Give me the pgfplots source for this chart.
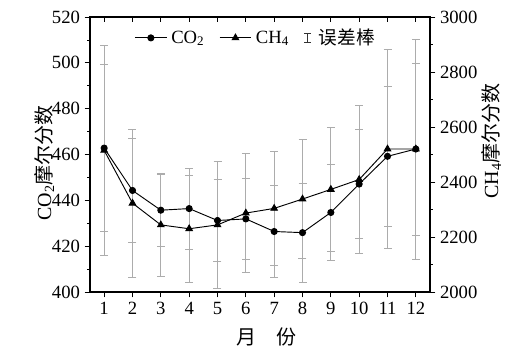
\documentclass[border=0pt]{standalone}
\usepackage{pgfplots}
\usepackage{pgfplotstable}
\pgfplotsset{compat=1.18}
\usepackage{fontspec}
\setmainfont{Liberation Serif}
\newfontfamily\cjk{Noto Sans CJK SC}

\pgfplotstableread{
m  v      e
1  462.8  36.5
2  444.3  22.7
3  435.7  15.8
4  436.4  17.6
5  431.2  17.9
6  431.9  17.5
7  426.4  20.2
8  425.9  21.6
9  434.7  21.1
10 447.1  23.8
11 459.2  30.6
12 462.4  37.5
}\coTwo

\pgfplotstableread{
m  v     e
1  2515  382
2  2323  270
3  2244  188
4  2230  194
5  2244  231
6  2287  216
7  2304  207
8  2338  216
9  2373  225
10 2409  270
11 2520  361
12 2520  400
}\chFour

\pgfplotsset{
  base/.style={
    width=255pt, height=206.25pt, scale only axis,
    xmin=0.5, xmax=12.5, xtick={1,...,12},
    /pgf/number format/assume math mode=true,
    tick label style={font=\fontsize{14}{14}\selectfont},
    label style={font=\fontsize{15}{15}\selectfont},
    major tick length=4pt, minor tick length=2.2pt,
    axis line style={line width=0.8pt},
    every tick/.style={black, line width=0.6pt},
  },
  ebar/.style={
    draw=none, mark=none, forget plot,
    error bars/.cd, y dir=both, y explicit,
    error bar style={gray!65, line width=0.6pt},
    error mark options={rotate=90, mark size=3pt, gray!65, line width=0.6pt},
  },
}

\begin{document}
\begin{tikzpicture}
% left axis with CO2 error bars
\begin{axis}[base,
  ymin=400, ymax=520, ytick={400,420,...,520}, minor y tick num=1,
  xtick pos=bottom, ytick pos=left, tick align=outside,
  xlabel={\cjk 月\hspace{1em}份},
  xlabel style={at={(axis description cs:0.52,-0.165)}, anchor=center},
  ylabel={CO\textsubscript{2}{\cjk 摩尔分数}},
  ylabel style={at={(axis description cs:-0.135,0.47)}, anchor=center},
]
\addplot+[ebar] table[x=m, y=v, y error=e] {\coTwo};
\end{axis}
% right axis with CH4 error bars
\begin{axis}[base,
  ymin=2000, ymax=3000, ytick={2000,2200,...,3000}, minor y tick num=1,
  axis y line*=right, axis x line*=top,
  xticklabels={}, tick align=outside, xtick align=inside,
  ylabel={CH\textsubscript{4}{\cjk 摩尔分数}},
  ylabel style={at={(axis description cs:1.18,0.55)}, anchor=center},
  /pgf/number format/1000 sep={},
]
\addplot+[ebar] table[x=m, y=v, y error=e] {\chFour};
\end{axis}
% CO2 line
\begin{axis}[base, hide axis, ymin=400, ymax=520]
\addplot[black, line width=0.7pt, mark=*, mark size=2.3pt] table[x=m, y=v] {\coTwo};
\end{axis}
% CH4 line + legend
\begin{axis}[base, hide axis, ymin=2000, ymax=3000,
  legend columns=3,
  legend style={draw=none, fill=none, at={(axis description cs:0.13,0.924)}, anchor=west,
    font=\fontsize{14}{14}\selectfont, inner sep=0pt, column sep=1pt,
    /tikz/every even column/.append style={column sep=9pt}},
  legend image code/.code={\draw[mark repeat=2,mark phase=2] plot coordinates {(0cm,0cm) (0.42cm,0cm) (0.84cm,0cm)};},
]
\addlegendimage{black, line width=0.7pt, mark=*, mark size=2.3pt}
\addplot[black, line width=0.7pt, mark=triangle*, mark size=2.8pt] table[x=m, y=v] {\chFour};
\addlegendimage{legend image code/.code={
  \path (0cm,0) (0.28cm,0);
  \draw[black!80, line width=0.6pt] (0.1cm,-0.13cm)--(0.1cm,0.13cm);
  \draw[black!80, line width=0.6pt] (0.01cm,-0.13cm)--(0.19cm,-0.13cm);
  \draw[black!80, line width=0.6pt] (0.01cm,0.13cm)--(0.19cm,0.13cm);}}
\legend{CO\textsubscript{2}, CH\textsubscript{4}, {\cjk 误差棒}}
\end{axis}
\pgfresetboundingbox
\path[use as bounding box] (-67.5pt,-46.5pt) rectangle (329.25pt,219pt);
\end{tikzpicture}
\end{document}
